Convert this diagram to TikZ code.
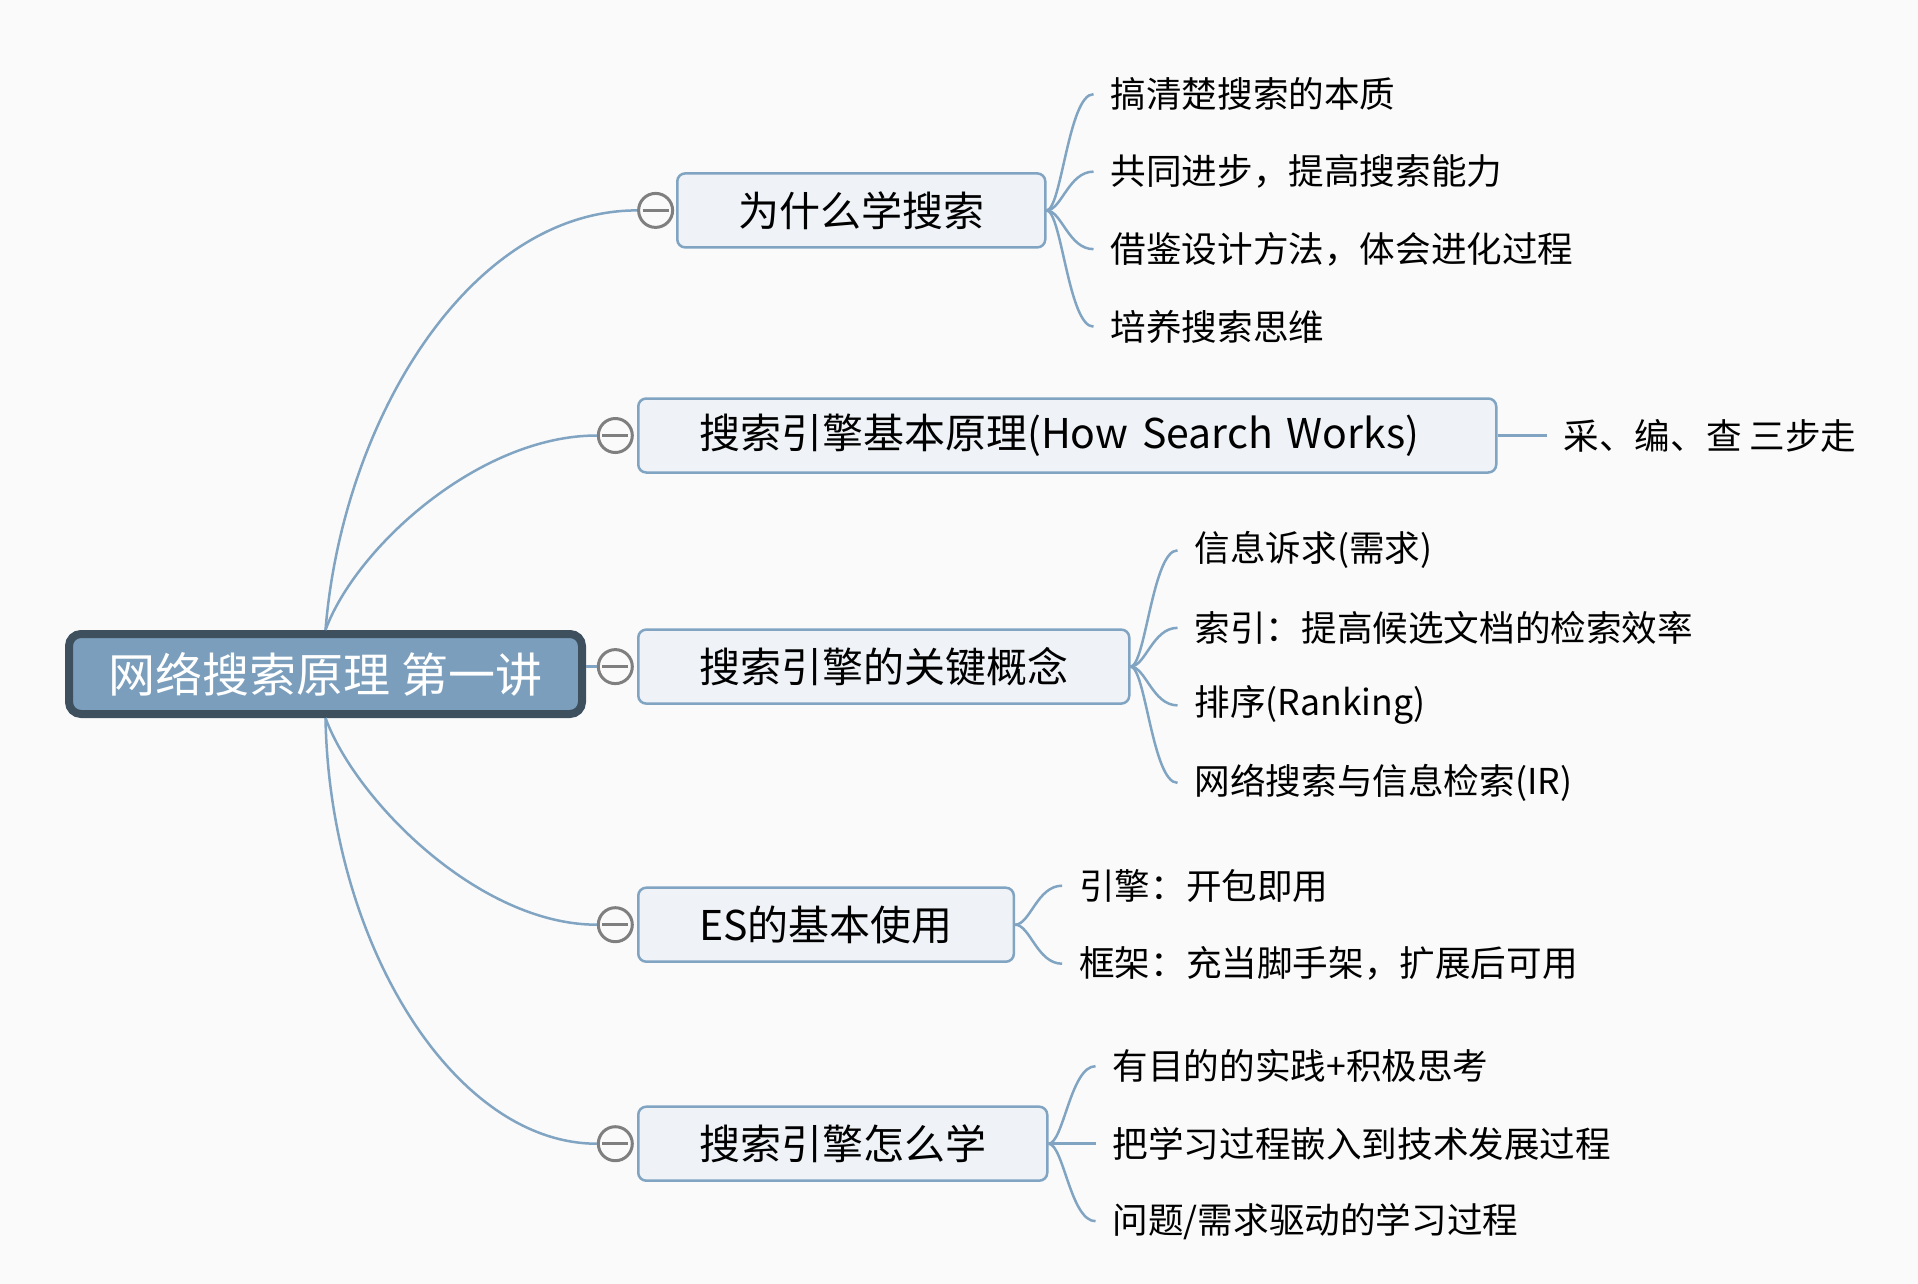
\documentclass[tikz,border=0pt]{standalone}
\usepackage{fontspec}
\newfontfamily\cjk{Noto Sans CJK SC}
\usepackage{tikz}
\usetikzlibrary{positioning}
\definecolor{paper}{HTML}{FAFAFA}
\definecolor{linkblue}{HTML}{80A4C2}
\definecolor{boxfill}{HTML}{EFF3F7}
\definecolor{rootfill}{HTML}{7A9EBC}
\definecolor{rootline}{HTML}{3E4F5E}
\definecolor{foldgray}{HTML}{7F7F7F}

\begin{document}
\begin{tikzpicture}
	[x=1pt, y=-1pt,
	main node/.style={draw=rootline, fill=rootfill, line width=8pt, rounded corners=12pt, minimum width=513pt, minimum height=80pt, text=white, font=\cjk\fontsize{47}{56}\selectfont},
	branch node/.style={draw=linkblue, fill=boxfill, line width=2.5pt, rounded corners=8pt, minimum height=74pt, inner xsep=61pt, anchor=west, font=\cjk\fontsize{41}{48}\selectfont},
	leaf node/.style={anchor=west, inner xsep=17pt, font=\cjk\fontsize{35.6}{42}\selectfont},
	fold node/.style={circle, draw=foldgray, fill=paper, line width=3pt, minimum size=34pt, inner sep=0pt,
		path picture={\draw[foldgray, line width=3pt] ([xshift=-13pt]path picture bounding box.center) -- ([xshift=13pt]path picture bounding box.center);}},
	link/.style={draw=linkblue, line width=2.5pt}]

	\fill[paper] (0,0) rectangle (1918,1284);

	\node[main node] (root) at (325.5,674) {网络搜索原理 第一讲};

	%first level, fold circle left of each box
	\node[fold node] (c1) at (655.6,210.4) {};
	\node[branch node] (b1) at (676,210.4) {为什么学搜索};
	\node[fold node] (c2) at (615.3,435.5) {};
	\node[branch node, text width=736pt, align=left] (b2) at (637,435.5) {搜索引擎基本原理(How Search Works)};
	\node[fold node] (c3) at (615.3,666.6) {};
	\node[branch node] (b3) at (637,666.6) {搜索引擎的关键概念};
	\node[fold node] (c4) at (615.3,924.7) {};
	\node[branch node] (b4) at (637,924.7) {ES的基本使用};
	\node[fold node] (c5) at (615.3,1143.7) {};
	\node[branch node] (b5) at (637,1143.7) {搜索引擎怎么学};

	\draw[link] (root.north) .. controls +(17,-210) and +(-167,0) .. (c1.west); %up
	\draw[link] (root.north) .. controls +(30,-82) and +(-118,0) .. (c2.west);
	\draw[link] (root.east |- c3.west) -- (c3.west); %right
	\draw[link] (root.south) .. controls +(30,82) and +(-118,0) .. (c4.west);
	\draw[link] (root.south) .. controls +(4,225) and +(-143,0) .. (c5.west); %down

	%leaves
	\foreach \txt [count=\k] in {搞清楚搜索的本质, 共同进步，提高搜索能力, 借鉴设计方法，体会进化过程, 培养搜索思维}{
		\node[leaf node] (l1\k) at ([shift={(47,{77.5*(\k-2.5)})}]b1.east) {\txt};
		\draw[link] (b1.east) .. controls +(15,0) and +(-25,0) .. (l1\k.west);
	}

	\node[leaf node, right=49pt of b2] (l21) {采、编、查 三步走};
	\draw[link] (b2.east) -- (l21.west);

	\foreach \txt [count=\k] in {信息诉求(需求), 索引：提高候选文档的检索效率, 排序(Ranking), 网络搜索与信息检索(IR)}{
		\node[leaf node] (l3\k) at ([shift={(47,{77.5*(\k-2.5)})}]b3.east) {\txt};
		\draw[link] (b3.east) .. controls +(15,0) and +(-25,0) .. (l3\k.west);
	}

	\foreach \txt [count=\k] in {引擎：开包即用, 框架：充当脚手架，扩展后可用}{
		\node[leaf node] (l4\k) at ([shift={(47,{78*(\k-1.5)})}]b4.east) {\txt};
		\draw[link] (b4.east) .. controls +(15,0) and +(-25,0) .. (l4\k.west);
	}

	\foreach \txt [count=\k] in {有目的的实践+积极思考, 把学习过程嵌入到技术发展过程, {问题/需求驱动的学习过程}}{
		\node[leaf node] (l5\k) at ([shift={(47,{77.5*(\k-2)})}]b5.east) {\txt};
		\draw[link] (b5.east) .. controls +(15,0) and +(-25,0) .. (l5\k.west);
	}
\end{tikzpicture}
\end{document}
